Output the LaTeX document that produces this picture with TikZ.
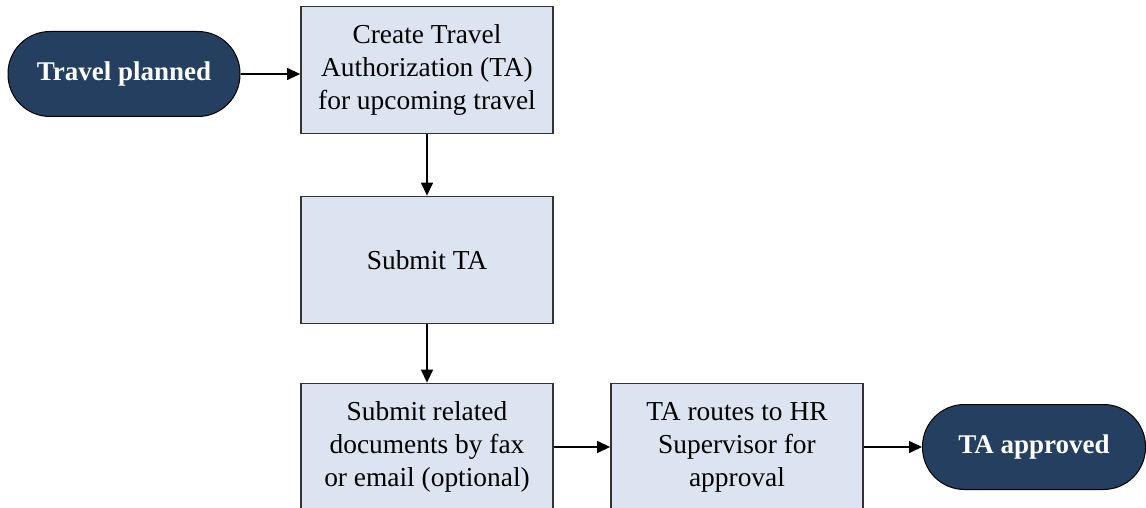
\documentclass[tikz,border=0pt]{standalone}
\usepackage{fontspec}
\setmainfont{Liberation Serif}
\usetikzlibrary{positioning,arrows.meta}
\definecolor{boxfill}{HTML}{DBE4F0}
\definecolor{navy}{HTML}{243F60}

\begin{document}
\begin{tikzpicture}[x=1pt,y=1pt,node distance=190pt,on grid,
	>={Triangle[length=13pt,width=12pt]},line width=1.3pt,
	proc/.style={draw=black!80,line width=1.8pt,fill=boxfill,minimum width=252pt,minimum height=127pt,inner sep=0pt,align=center,font=\fontsize{27.4}{33}\selectfont},
	term/.style={draw=black,line width=1pt,fill=navy,rounded corners=42pt,minimum width=232pt,minimum height=85pt,inner sep=0pt,text=white,font=\fontsize{27}{33}\selectfont\bfseries}]
	\useasboundingbox (0,0) rectangle (1146,-508);
	\node[proc] (create) at (427,-70) {Create Travel\\Authorization (TA)\\for upcoming travel};
	\node[term] (planned) [left=303pt of create,yshift=-4pt] {Travel planned};
	\node[proc] (submit) [below=of create] {Submit TA};
	\node[proc] (related) [below=187pt of submit] {Submit related\\documents by fax\\or email (optional)};
	\node[proc] (routes) [right=310pt of related] {TA routes to HR\\Supervisor for\\approval};
	\node[term,minimum width=223pt] (approved) [right=297pt of routes] {TA approved};
	\path[->]
	(planned.east) edge (planned.east -| create.west)
	(create) edge (submit)
	(submit) edge (related)
	(related) edge (routes)
	(routes) edge (approved)
	;
\end{tikzpicture}
\end{document}
